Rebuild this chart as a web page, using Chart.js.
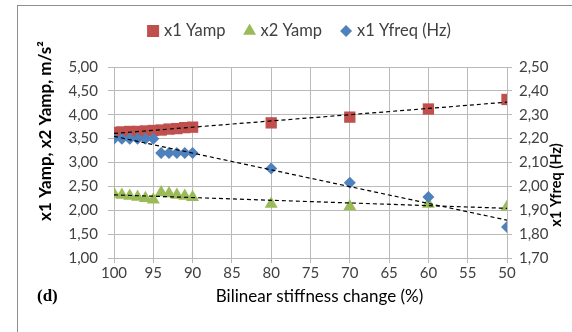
<!DOCTYPE html>
<html>
<head>
<meta charset="utf-8">
<title>Bilinear stiffness change</title>
<script src="https://cdn.jsdelivr.net/npm/chart.js@4/dist/chart.umd.min.js"></script>
<style>
  html, body { margin: 0; padding: 0; background: #ffffff; }
  #wrap { position: relative; width: 572px; height: 332px; overflow: hidden; }
  #frame { position: absolute; left: 17px; top: 5px; width: 700px; height: 500px;
           border-left: 1px solid #8e8e8e; border-top: 1px solid #8e8e8e; }
  #c { position: absolute; left: 0; top: 0; }
</style>
</head>
<body>
<div id="wrap">
  <div id="frame"></div>
  <canvas id="c" width="572" height="332"></canvas>
</div>
<script>
// Stiffness levels (%) and measured responses
const stiffness = [100, 99, 98, 97, 96, 95, 94, 93, 92, 91, 90, 80, 70, 60, 50];
const x1Yamp   = [3.63, 3.64, 3.65, 3.65, 3.66, 3.67, 3.68, 3.70, 3.71, 3.73, 3.74, 3.83, 3.95, 4.12, 4.32];
const x2Yamp   = [2.34, 2.32, 2.30, 2.28, 2.25, 2.22, 2.37, 2.35, 2.32, 2.30, 2.27, 2.13, 2.08, 2.13, 2.07];
const x1Yfreq  = [2.20, 2.20, 2.20, 2.20, 2.20, 2.20, 2.14, 2.14, 2.14, 2.14, 2.14, 2.075, 2.015, 1.955, 1.83];

const seriesNames = ['x1 Yamp', 'x2 Yamp', 'x1 Yfreq (Hz)'];
const xTitle = 'Bilinear stiffness change (%)';
const leftTitle = 'x1 Yamp, x2 Yamp, m/s\u00B2';
const rightTitle = 'x1 Yfreq (Hz)';
const panelTag = '(d)';

const RED = '#C0504D', GREEN = '#9BBB59', BLUE = '#4F81BD';
const GRID = '#bababa';
const TXT = '#404040';
const FONT = 'Lato, "Open Sans", "DejaVu Sans", sans-serif';

const points = ys => stiffness.map((x, i) => ({ x, y: ys[i] }));

// Linear least-squares trend over the full stiffness range
function trend(ys) {
  const n = stiffness.length;
  let sx = 0, sy = 0, sxx = 0, sxy = 0;
  for (let i = 0; i < n; i++) {
    sx += stiffness[i]; sy += ys[i];
    sxx += stiffness[i] * stiffness[i]; sxy += stiffness[i] * ys[i];
  }
  const m = (n * sxy - sx * sy) / (n * sxx - sx * sx);
  const b = (sy - m * sx) / n;
  const lo = Math.min(...stiffness), hi = Math.max(...stiffness);
  return [{ x: hi, y: m * hi + b }, { x: lo, y: m * lo + b }];
}

const comma = v => v.toFixed(2).replace('.', ',');

const trendStyle = {
  type: 'line', trend: true, borderColor: '#000000', borderWidth: 1.2,
  borderDash: [4, 3], pointRadius: 0, fill: false, order: 0
};

// Series legend across the top, using each dataset's own marker style
const legendPlugin = {
  id: 'seriesLegend',
  afterDraw(chart) {
    const ctx = chart.ctx;
    const items = chart.data.datasets.filter(d => !d.trend);
    const markerW = 12, gap = 5, spacing = 18, y = 31;
    ctx.save();
    ctx.font = '16.5px ' + FONT;
    const widths = items.map(d => markerW + gap + ctx.measureText(d.label).width);
    const total = widths.reduce((s, w) => s + w, 0) + spacing * (items.length - 1);
    let x = 299 - total / 2;
    items.forEach((d, i) => {
      ctx.fillStyle = d.backgroundColor;
      Chart.helpers.drawPoint(ctx, { pointStyle: d.pointStyle, radius: d.legendRadius, borderWidth: 0, rotation: 0 },
        x + markerW / 2, y);
      ctx.fillStyle = TXT;
      ctx.textAlign = 'left';
      ctx.textBaseline = 'middle';
      ctx.fillText(d.label, x + markerW + gap, y);
      x += widths[i] + spacing;
    });
    ctx.restore();
  }
};

// Axis titles and panel tag
const titlesPlugin = {
  id: 'titles',
  afterDraw(chart) {
    const ctx = chart.ctx;
    const a = chart.chartArea;
    ctx.save();
    ctx.fillStyle = '#000000';
    ctx.textAlign = 'center';
    ctx.textBaseline = 'middle';
    ctx.font = '17px ' + FONT;
    ctx.fillText(xTitle, (a.left + a.right) / 2 + 9, 297);

    ctx.font = 'bold 17px "Liberation Serif", "Times New Roman", serif';
    ctx.textAlign = 'left';
    ctx.fillText(panelTag, 37, 297);

    ctx.textAlign = 'center';
    ctx.font = 'bold 17px ' + FONT;
    ctx.save();
    ctx.translate(46, 131);
    ctx.rotate(-Math.PI / 2);
    ctx.fillText(leftTitle, 0, 0);
    ctx.restore();

    ctx.font = 'bold 14.5px ' + FONT;
    ctx.save();
    ctx.translate(556, 185);
    ctx.rotate(-Math.PI / 2);
    ctx.fillText(rightTitle, 0, 0);
    ctx.restore();
    ctx.restore();
  }
};

new Chart(document.getElementById('c'), {
  type: 'scatter',
  data: {
    datasets: [
      { label: seriesNames[0], data: points(x1Yamp), yAxisID: 'y', legendRadius: 8.5,
        pointStyle: 'rect', pointRadius: 8, backgroundColor: RED, borderColor: RED, borderWidth: 0, order: 3 },
      { label: seriesNames[1], data: points(x2Yamp), yAxisID: 'y', legendRadius: 7.5,
        pointStyle: 'triangle', pointRadius: 7.5, backgroundColor: GREEN, borderColor: GREEN, borderWidth: 0, order: 2 },
      { label: seriesNames[2], data: points(x1Yfreq), yAxisID: 'y1', legendRadius: 6,
        pointStyle: 'rectRot', pointRadius: 6, backgroundColor: BLUE, borderColor: BLUE, borderWidth: 0, order: 1 },
      Object.assign({ label: 'trend1', data: trend(x1Yamp), yAxisID: 'y' }, trendStyle),
      Object.assign({ label: 'trend2', data: trend(x2Yamp), yAxisID: 'y' }, trendStyle),
      Object.assign({ label: 'trend3', data: trend(x1Yfreq), yAxisID: 'y1' }, trendStyle)
    ]
  },
  options: {
    responsive: false,
    animation: false,
    events: [],
    layout: { padding: { left: 18, right: 0, top: 67, bottom: 0 } },
    plugins: {
      tooltip: { enabled: false },
      legend: { display: false }
    },
    scales: {
      x: {
        type: 'linear', reverse: true, min: 50, max: 100,
        afterFit: s => { s.height = 74; },
        ticks: { stepSize: 5, color: TXT, padding: 1, font: { family: FONT, size: 15 },
                 callback: v => String(v) },
        grid: { color: GRID, tickLength: 5 },
        border: { color: GRID }
      },
      y: {
        position: 'left', min: 1, max: 5,
        afterFit: s => { s.width = 96; },
        ticks: { stepSize: 0.5, color: TXT, padding: 10, font: { family: FONT, size: 15 },
                 callback: v => comma(v) },
        grid: { color: GRID, tickLength: 6 },
        border: { color: GRID }
      },
      y1: {
        position: 'right', min: 1.7, max: 2.5,
        afterFit: s => { s.width = 65; },
        ticks: { stepSize: 0.1, color: TXT, padding: 7, font: { family: FONT, size: 15 },
                 callback: v => comma(v) },
        grid: { drawOnChartArea: false, color: GRID, tickLength: 5 },
        border: { color: GRID }
      }
    }
  },
  plugins: [legendPlugin, titlesPlugin]
});
</script>
</body>
</html>
